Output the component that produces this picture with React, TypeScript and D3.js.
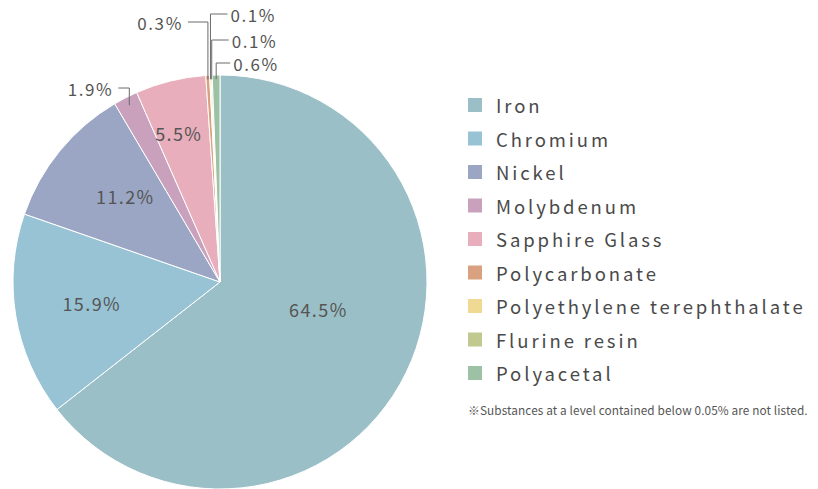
import React from "react";
import * as d3 from "d3";

// Data
const substances = [
    "Iron",
    "Chromium",
    "Nickel",
    "Molybdenum",
    "Sapphire Glass",
    "Polycarbonate",
    "Polyethylene terephthalate",
    "Flurine resin",
    "Polyacetal",
];
const shares = [64.5, 15.9, 11.2, 1.9, 5.5, 0.3, 0.1, 0.1, 0.6];
const palette = [
    "#9bbfc6",
    "#98c3d5",
    "#9aa6c3",
    "#c9a1bc",
    "#e8aebb",
    "#d9a17f",
    "#f0d992",
    "#c2c990",
    "#9cc1a4",
];
const footnote = "※Substances at a level contained below 0.05% are not listed.";

const W = 818;
const H = 489;
const CX = 220;
const CY = 282;
const R = 207;
const FONT = "'Noto Sans CJK JP', 'Noto Sans', sans-serif";
const TEXT = "#555";
const LINE = "#6b6b6b";

// label layout: inside labels (polar nudges), outside labels (leader lines)
const inside: Record<number, { r: number; da: number }> = {
    0: { r: 102, da: -10.6 },
    1: { r: 130, da: 0 },
    2: { r: 128, da: 3 },
    4: { r: 155, da: -1.6 },
};
const outside: Record<number, { y: number; side: "l" | "r"; len: number }> = {
    3: { y: 88, side: "l", len: 11 },
    5: { y: 22, side: "l", len: 20 },
    6: { y: 14, side: "r", len: 17 },
    7: { y: 40, side: "r", len: 17 },
    8: { y: 63, side: "r", len: 14 },
};

type Row = { name: string; value: number; color: string };
const rows: Row[] = substances.map((name, i) => ({ name, value: shares[i], color: palette[i] }));

const App: React.FC = () => {
    const pie = d3.pie<Row>().value((d) => d.value).sort(null);
    const arcs = pie(rows);
    const arc = d3.arc<d3.PieArcDatum<Row>>().innerRadius(0).outerRadius(R);

    const polar = (angle: number, r: number): [number, number] => [
        CX + Math.sin(angle) * r,
        CY - Math.cos(angle) * r,
    ];

    const legendY = d3.scalePoint<string>().domain(substances).range([105, 373]);

    return (
        <svg
            width={W}
            height={H}
            style={{ position: "absolute", left: 0, top: 0, background: "#fff" }}
            fontFamily={FONT}
        >
            <g transform={`translate(${CX},${CY})`}>
                {arcs.map((a, i) => (
                    <path key={i} d={arc(a) ?? ""} fill={a.data.color} stroke="#fff" strokeWidth={1} />
                ))}
            </g>

            {/* inside labels */}
            {arcs.map((a, i) => {
                const l = inside[i];
                if (!l) return null;
                const mid = (a.startAngle + a.endAngle) / 2 + (l.da * Math.PI) / 180;
                const [x, y] = polar(mid, l.r);
                return (
                    <text
                        key={i}
                        x={x}
                        y={y}
                        textAnchor="middle"
                        dominantBaseline="central"
                        fontSize={18}
                        letterSpacing={1.4}
                        fill={TEXT}
                    >
                        {`${a.data.value}%`}
                    </text>
                );
            })}

            {/* leader labels */}
            {arcs.map((a, i) => {
                const l = outside[i];
                if (!l) return null;
                const mid = (a.startAngle + a.endAngle) / 2;
                const [x0, y0] = polar(mid, i === 3 ? R * 0.96 : R * 0.98);
                const x1 = l.side === "l" ? x0 - l.len : x0 + l.len;
                return (
                    <g key={i}>
                        <polyline
                            points={`${x0},${y0} ${x0},${l.y} ${x1},${l.y}`}
                            fill="none"
                            stroke={LINE}
                            strokeWidth={1}
                        />
                        <text
                            x={l.side === "l" ? x1 - 5 : x1 + 3}
                            y={l.y}
                            textAnchor={l.side === "l" ? "end" : "start"}
                            dominantBaseline="central"
                            fontSize={17}
                            letterSpacing={1.6}
                            fill={TEXT}
                        >
                            {`${a.data.value}%`}
                        </text>
                    </g>
                );
            })}

            {/* legend */}
            {rows.map((d) => {
                const y = legendY(d.name)!;
                return (
                    <g key={d.name}>
                        <rect x={468} y={y - 7} width={14} height={14} fill={d.color} />
                        <text
                            x={496}
                            y={y}
                            dominantBaseline="central"
                            fontSize={18.5}
                            letterSpacing={2.9}
                            fill="#4a4a4a"
                        >
                            {d.name}
                        </text>
                    </g>
                );
            })}
            <text x={468} y={409} dominantBaseline="central" fontSize={11.8} letterSpacing={0.1} fill="#555">
                {footnote}
            </text>
        </svg>
    );
};

export default App;
